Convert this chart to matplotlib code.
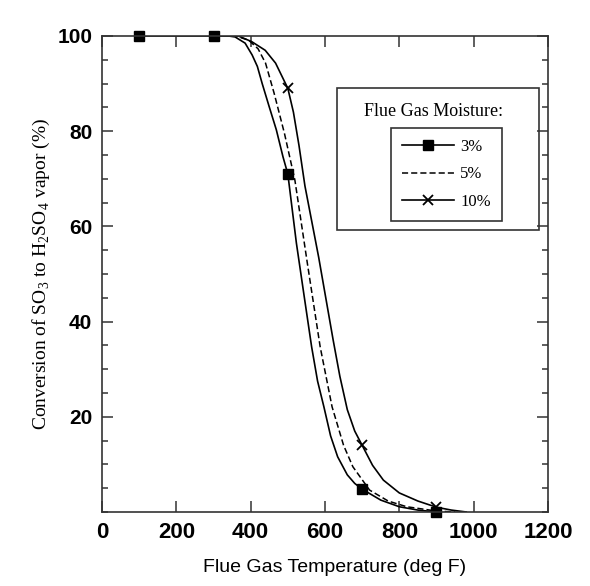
import numpy as np
import matplotlib
matplotlib.use("Agg")
import matplotlib.pyplot as plt
from matplotlib.patches import Rectangle
from matplotlib.lines import Line2D
from matplotlib.ticker import MultipleLocator

plt.rcParams['mathtext.fontset'] = 'custom'
plt.rcParams['mathtext.rm'] = 'Liberation Serif'

temp_3 = [100, 300, 340, 358, 385, 404, 418, 431, 450, 469, 487, 500, 523, 544, 564, 580, 597, 615, 634, 660, 680, 700, 750, 800, 850, 900]
conv_3 = [100, 100, 100, 99.8, 98.5, 96, 93.6, 90, 85.1, 80.3, 74.6, 71, 56.5, 45.3, 34.7, 27.5, 22.1, 16, 11.6, 7.8, 6, 4.8, 2.5, 1.1, 0.4, 0]

temp_5 = [300, 360, 395, 420, 440, 463, 491, 519, 553, 587, 619, 650, 675, 720, 770, 820, 900, 950]
conv_5 = [100, 100, 99.1, 97.3, 94.3, 88, 79.5, 69.7, 52, 34.7, 22.1, 14, 9.5, 4.6, 2.3, 1.1, 0.2, 0]

temp_10 = [300, 367, 403, 439, 467, 500, 515, 530, 546, 583, 622, 640, 660, 680, 700, 728, 757, 800, 850, 900, 940, 980]
conv_10 = [100, 100, 98.8, 97, 94.3, 89, 84, 77, 68.5, 53.5, 36.1, 28.5, 21.5, 17, 14, 9.8, 6.7, 4, 2.3, 1.0, 0.4, 0]

# measured points
pts_temp_3 = [100, 300, 500, 700, 900]
pts_conv_3 = [100, 100, 71, 4.8, 0]
pts_temp_10 = [500, 700, 900]
pts_conv_10 = [89, 14, 1.0]

fig = plt.figure(figsize=(5.9, 5.86), dpi=100)
ax = fig.add_axes([0.1729, 0.1263, 0.7559, 0.8123])

ax.plot(temp_3, conv_3, color='black', lw=1.2)
ax.plot(temp_5, conv_5, color='black', lw=1.1, ls=(0, (4, 2)))
ax.plot(temp_10, conv_10, color='black', lw=1.2)
ax.plot(pts_temp_3, pts_conv_3, ls='none', marker='s', ms=6.5, color='black', clip_on=False)
ax.plot(pts_temp_10, pts_conv_10, ls='none', marker='x', ms=7, mew=1.3, color='black', clip_on=False)

ax.set_xlim(0, 1200)
ax.set_ylim(0, 100)
ax.set_xticks([0, 200, 400, 600, 800, 1000, 1200])
ax.set_yticks([20, 40, 60, 80, 100])
ax.yaxis.set_minor_locator(MultipleLocator(5))

for s in ax.spines.values():
    s.set_linewidth(1.2)
    s.set_color('#333333')

ax.tick_params(which='both', direction='in', top=True, right=True, color='#333333', width=1.1)
ax.tick_params(which='major', length=8, pad=7)
ax.tick_params(which='minor', length=4)
ax.tick_params(axis='x', which='minor', top=False, bottom=False)
for lab in ax.get_xticklabels():
    lab.set_fontfamily('Liberation Sans')
    lab.set_fontweight('bold')
    lab.set_fontsize(16)
for lab in ax.get_yticklabels():
    lab.set_fontfamily('Liberation Sans')
    lab.set_fontweight('bold')
    lab.set_fontsize(15)

ax.set_xlabel('Flue Gas Temperature (deg F)', fontsize=14, family='Liberation Sans')
ax.xaxis.set_label_coords(0.522, -0.098)
ax.set_ylabel('Conversion of SO$_3$ to H$_2$SO$_4$ vapor (%)', fontsize=14, family='Liberation Serif')
ax.yaxis.set_label_coords(-0.112, 0.5)

# outer legend frame with title
ax.add_patch(Rectangle((0.527, 0.592), 0.453, 0.299, transform=ax.transAxes,
                       fill=False, edgecolor='#333333', lw=1.2))
ax.text(0.744, 0.841, 'Flue Gas Moisture:', transform=ax.transAxes, ha='center', va='center',
        fontsize=13, family='Liberation Serif')

handles = [
    Line2D([], [], color='black', lw=1.2, marker='s', ms=6.5),
    Line2D([], [], color='black', lw=1.1, ls=(0, (4, 2))),
    Line2D([], [], color='black', lw=1.2, marker='x', ms=7, mew=1.3),
]
leg = ax.legend(handles, ['3%', '5%', '10%'], loc='upper left', bbox_to_anchor=(0.648, 0.807),
                borderaxespad=0, fancybox=False, framealpha=1, edgecolor='#333333',
                prop={'family': 'Liberation Serif', 'size': 12}, handlelength=3.1,
                handletextpad=0.4, labelspacing=0.7, borderpad=0.65)
leg.get_frame().set_linewidth(1.2)

fig.savefig('out.png', dpi=100)
